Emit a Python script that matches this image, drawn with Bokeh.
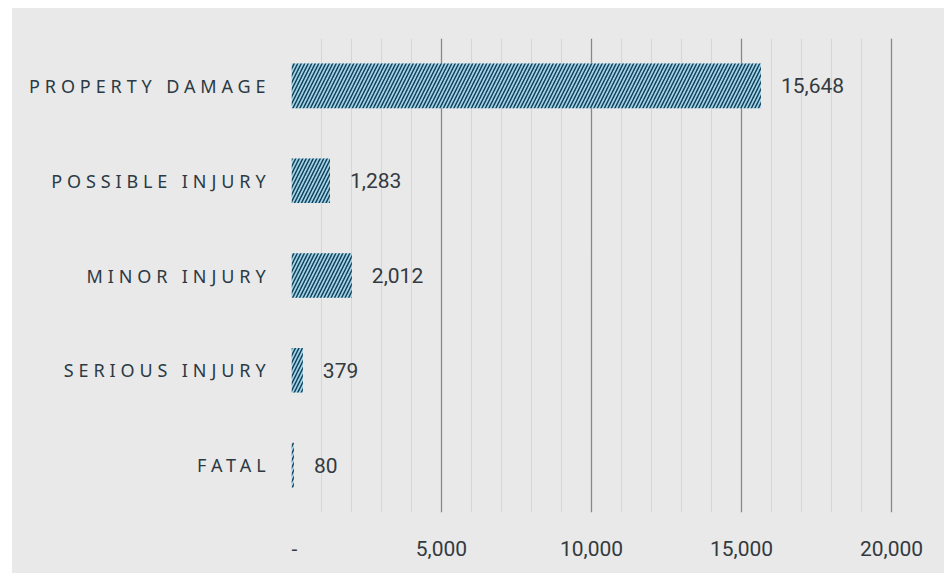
from bokeh.plotting import figure
from bokeh.models import ColumnDataSource, FixedTicker, Grid, InlineStyleSheet
from bokeh.layouts import row, column, Spacer
from bokeh.core.properties import value
from bokeh.embed import file_html
from bokeh.resources import INLINE

# Crash severity counts
categories = ["PROPERTY DAMAGE", "POSSIBLE INJURY", "MINOR INJURY", "SERIOUS INJURY", "FATAL"]
counts = [15648, 1283, 2012, 379, 80]
x_ticks = [0, 5000, 10000, 15000, 20000]
x_tick_labels = ["-", "5,000", "10,000", "15,000", "20,000"]

BG = "#e9e9e9"
FONT = "Roboto"
CAT_FONT = "Noto Sans"
H = 565
TOP, BOTTOM = 30, 61
SPACING = 4.9  # letter spacing of the category names, px

labels = [f"{v:,}" for v in counts]
# letter spacing widens each name past its measured width; shift it back left
cat_shift = [-21 - SPACING * len(s) for s in categories]
src = ColumnDataSource(dict(cat=categories, count=counts, label=labels, shift=cat_shift))

# --- main bar chart ---
p = figure(
    width=653, height=H,
    y_range=list(reversed(categories)),
    x_range=(0, 21767),
    output_backend="svg", toolbar_location=None,
    background_fill_color=None, border_fill_color=BG,
    outline_line_color=None,
    min_border_left=0, min_border_right=0,
    min_border_top=TOP, min_border_bottom=BOTTOM,
)

p.hbar(
    y="cat", right="count", left=0, height=0.47, source=src,
    fill_color="#9fd6ea", line_color=None,
    hatch_pattern="/", hatch_color="#173f58", hatch_scale=7, hatch_weight=1.5,
)

p.text(
    x="count", y="cat", text="label", source=src,
    x_offset=20, text_baseline="middle", text_align="left",
    text_font=value(FONT), text_font_size="21px", text_color="#333a40",
)

# Gridlines: light every 1,000, darker every 5,000
p.xgrid.visible = False
p.ygrid.visible = False
minor = Grid(dimension=0, ticker=FixedTicker(ticks=[t for t in range(0, 20001, 1000) if t % 5000 != 0 or t == 0]),
             grid_line_color="#d4d6d8", grid_line_width=1)
major = Grid(dimension=0, ticker=FixedTicker(ticks=x_ticks[1:]),
             grid_line_color="#7d8a92", grid_line_width=1.3)
p.add_layout(minor, "center")
p.add_layout(major, "center")

xa = p.xaxis[0]
xa.ticker = FixedTicker(ticks=x_ticks)
xa.major_label_overrides = {t: s for t, s in zip(x_ticks, x_tick_labels)}
xa.axis_line_color = None
xa.major_tick_line_color = None
xa.minor_tick_line_color = None
xa.major_label_standoff = 22
xa.major_label_text_font = FONT
xa.major_label_text_font_size = "21px"
xa.major_label_text_color = "#333a40"
xa.major_label_text_font_style = "normal"
p.yaxis.visible = False

# --- category names, in spaced-out capitals ---
c = figure(
    width=279, height=H,
    y_range=p.y_range, x_range=(0, 1),
    output_backend="svg", toolbar_location=None,
    background_fill_color=None, border_fill_color=BG,
    outline_line_color=None,
    min_border_left=0, min_border_right=0,
    min_border_top=TOP, min_border_bottom=BOTTOM,
)
c.stylesheets = [InlineStyleSheet(css=f":host {{ letter-spacing: {SPACING}px; }}")]
c.text(
    x=1, y="cat", text="cat", source=src,
    x_offset="shift", text_baseline="middle", text_align="right",
    text_font=value(CAT_FONT), text_font_size="18px", text_color="#2b3a44",
)
c.axis.visible = False
c.grid.visible = False

charts = row(c, p, spacing=0, styles={"background-color": BG})
layout = row(Spacer(width=12), column(Spacer(height=8), charts))

open("out.html", "w").write(file_html(layout, INLINE))
